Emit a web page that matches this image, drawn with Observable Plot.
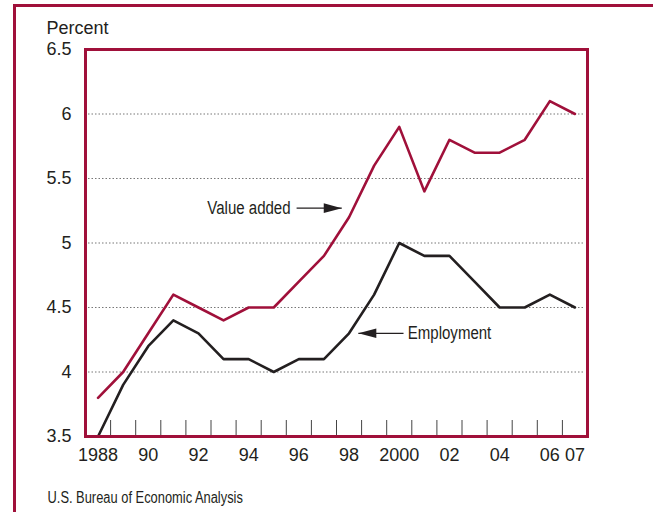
<!DOCTYPE html>
<html><head><meta charset="utf-8">
<script src="https://cdn.jsdelivr.net/npm/d3@7"></script>
<script src="https://cdn.jsdelivr.net/npm/@observablehq/plot@0.6"></script>
<style>
body{margin:0;background:#fff;}
#wrap{position:relative;width:653px;height:512px;overflow:hidden;}
#border{position:absolute;left:13px;top:4px;width:700px;height:600px;border-left:3px solid #a0103a;border-top:3px solid #a0103a;box-sizing:border-box;}
#chart{position:absolute;left:0;top:0;}
</style></head><body><div id="wrap"><div id="border"></div><div id="chart"></div></div>
<script>
const years = [1988,1989,1990,1991,1992,1993,1994,1995,1996,1997,1998,1999,2000,2001,2002,2003,2004,2005,2006,2007];
const valueAdded = [3.8,4.0,4.3,4.6,4.5,4.4,4.5,4.5,4.7,4.9,5.2,5.6,5.9,5.4,5.8,5.7,5.7,5.8,6.1,6.0];
const employment = [3.5,3.9,4.2,4.4,4.3,4.1,4.1,4.0,4.1,4.1,4.3,4.6,5.0,4.9,4.9,4.7,4.5,4.5,4.6,4.5];
const yTicks = [3.5,4,4.5,5,5.5,6,6.5];
const gridValues = [4,4.5,5,5.5,6];
const xLabelYears = [1988,1990,1992,1994,1996,1998,2000,2002,2004,2006,2007];
const xLabels = ["1988","90","92","94","96","98","2000","02","04","06","07"];
const xTickMarks = [1988.5,1989.5,1990.5,1991.5,1992.5,1993.5,1994.5,1995.5,1996.5,1997.5,1998.5,1999.5,2000.5,2001.5,2002.5,2003.5,2004.5,2005.5,2006.5];
const annotations = [
  {label:"Value added", labelX:1995.67, y:5.27, lineFrom:1995.91, tipX:1997.71, anchor:"end", rotate:90},
  {label:"Employment", labelX:2000.34, y:4.30, lineFrom:2000.17, tipX:1998.37, anchor:"start", rotate:-90}
];
const yAxisTitle = "Percent";
const source = "U.S. Bureau of Economic Analysis";

const crimson = "#a0103a";
const dark = "#231f20";

const vaRows = years.map((yr,i)=>({year:yr, value:valueAdded[i]}));
const emRows = years.map((yr,i)=>({year:yr, value:employment[i]}));
const labelMap = new Map(xLabelYears.map((y,i)=>[y,xLabels[i]]));

const headSymbol = {draw(ctx){ ctx.moveTo(0,0); ctx.lineTo(-4.8,18); ctx.lineTo(4.8,18); ctx.closePath(); }};

const chart = Plot.plot({
  width:653, height:512,
  marginLeft:85, marginTop:49, marginRight:66, marginBottom:76,
  style:{fontFamily:"'Liberation Sans',Arial,sans-serif", fontSize:"18px", color:dark, background:"transparent", overflow:"visible"},
  x:{domain:[1987.5,2007.5]},
  y:{domain:[3.5,6.5]},
  marks:[
    Plot.gridY(gridValues,{stroke:"#777", strokeOpacity:1, strokeDasharray:"1.5,2", insetLeft:3, insetRight:3}),
    Plot.axisY(yTicks,{tickSize:0, tickPadding:14, tickFormat:d=>String(d), label:null, fontSize:18}),
    Plot.tickX(xTickMarks,{x:d=>d, insetTop:371, stroke:"#444", strokeWidth:1}),
    Plot.axisX(xLabelYears,{tickSize:0, tickPadding:12, tickFormat:d=>labelMap.get(d), label:null, fontSize:18}),
    Plot.lineY(vaRows,{x:"year", y:"value", stroke:crimson, strokeWidth:2.6}),
    Plot.lineY(emRows,{x:"year", y:"value", stroke:dark, strokeWidth:2.6}),
    Plot.link(annotations,{x1:"lineFrom", x2:"tipX", y1:"y", y2:"y", stroke:dark, strokeWidth:1.2}),
    Plot.dot(annotations,{x:"tipX", y:"y", symbol:headSymbol, rotate:"rotate", fill:dark, stroke:"none"}),
    Plot.text(annotations.filter(d=>d.anchor==="end"),{x:"labelX", y:"y", text:"label", textAnchor:"end", fontSize:18, fill:dark, className:"narrow-a"}),
    Plot.text(annotations.filter(d=>d.anchor==="start"),{x:"labelX", y:"y", text:"label", textAnchor:"start", fontSize:18, fill:dark, className:"narrow-a"}),
    Plot.frame({stroke:crimson, strokeWidth:3}),
    Plot.text([yAxisTitle],{frameAnchor:"top-left", dx:-39, dy:-16, text:d=>d, textAnchor:"start", lineAnchor:"bottom", fontSize:18, fill:dark}),
    Plot.text([source],{frameAnchor:"bottom-left", dx:-38, dy:66, text:d=>d, textAnchor:"start", lineAnchor:"bottom", fontSize:16, fill:dark, className:"narrow-s"})
  ]
});
document.getElementById("chart").appendChild(chart);
// condense the label fonts (reference uses a narrow Helvetica)
function condense(sel, factor){
  d3.select(chart).selectAll(sel).each(function(){
    const w = this.getComputedTextLength();
    this.setAttribute("textLength", (w*factor).toFixed(1));
    this.setAttribute("lengthAdjust", "spacingAndGlyphs");
  });
}
condense(".narrow-a text", 0.835);
condense(".narrow-s text", 0.805);
</script>
</body></html>
